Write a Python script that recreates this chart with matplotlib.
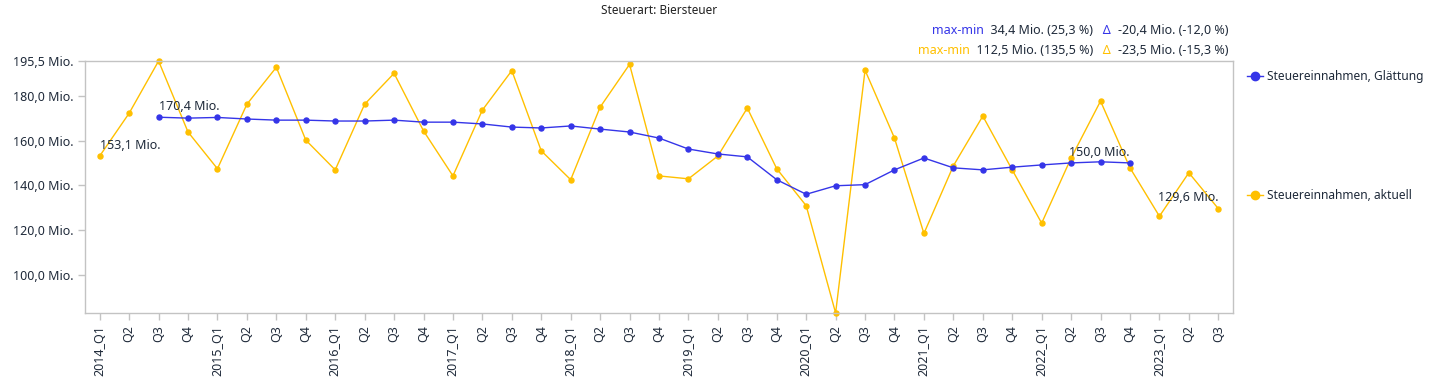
import matplotlib
matplotlib.use("Agg")
import matplotlib.pyplot as plt
from matplotlib.lines import Line2D
import numpy as np

plt.rcParams['font.family'] = ['Noto Sans', 'DejaVu Sans']

# data: quarterly beer tax revenue (Mio. EUR)
quarters = [f"{y}_Q{q}" for y in range(2014, 2024) for q in range(1, 5)][:39]
tick_labels = [q if q.endswith("Q1") else q.split("_")[1] for q in quarters]

aktuell = [153.1, 172.2, 195.5, 163.8,
           147.4, 176.2, 192.7, 160.2,
           146.9, 176.2, 190.0, 164.3,
           144.2, 173.6, 191.2, 155.4,
           142.5, 174.9, 194.0, 144.2,
           142.9, 153.1, 174.5, 147.4,
           130.9, 83.0, 191.4, 161.1,
           118.5, 148.7, 170.9, 146.9,
           123.1, 152.2, 177.6, 147.8,
           126.2, 145.6, 129.6]

glaettung = [None, None, 170.4, 170.0,
             170.3, 169.6, 169.1, 169.1,
             168.7, 168.7, 169.1, 168.2,
             168.2, 167.4, 166.0, 165.6,
             166.5, 165.1, 163.8, 161.1,
             156.2, 154.0, 152.7, 142.5,
             136.0, 139.8, 140.3, 146.9,
             152.2, 147.8, 146.9, 148.1,
             149.1, 150.0, 150.5, 150.0,
             None, None, None]

yticks = [100, 120, 140, 160, 180, 195.5]

BLUE = "#3535e8"
YELLOW = "#ffc000"
DARK = "#1f2a3a"
GREY = "#c3c3c3"

x = np.arange(len(quarters))
akt = np.array(aktuell, dtype=float)
gl = np.array([np.nan if v is None else v for v in glaettung])


def num(v):
    return f"{v:.1f}".replace(".", ",")


def mio(v):
    return num(v) + " Mio."


fig = plt.figure(figsize=(14.38, 3.83), dpi=100)
ax = fig.add_axes([85 / 1438, 1 - 313 / 383, (1233 - 85) / 1438, (313 - 61) / 383])

ax.plot(x, gl, color=BLUE, lw=1, marker="o", ms=3.6, clip_on=False, zorder=3)
ax.plot(x, akt, color=YELLOW, lw=1, marker="o", ms=3.6, clip_on=False, zorder=2)

ax.set_xlim(-0.5, len(x) - 0.5)
ax.set_ylim(min(aktuell), max(aktuell))
ax.set_yticks(yticks)
ax.set_yticklabels([mio(v) for v in yticks])
ax.set_xticks(x)
ax.set_xticklabels(tick_labels, rotation=90, va="top")
ax.tick_params(axis="both", colors=GREY, labelcolor=DARK, labelsize=9, length=5, width=1)
for s in ax.spines.values():
    s.set_color(GREY)
    s.set_linewidth(1)

# value labels
first_gl = int(np.where(~np.isnan(gl))[0][0])
last_gl = int(np.where(~np.isnan(gl))[0][-1])
ax.annotate(mio(akt[0]), (x[0], akt[0]), xytext=(0, 3), textcoords="offset points",
            ha="left", va="bottom", fontsize=9, color=DARK)
ax.annotate(mio(gl[first_gl]), (x[first_gl], gl[first_gl]), xytext=(0, 3), textcoords="offset points",
            ha="left", va="bottom", fontsize=9, color=DARK)
ax.annotate(mio(gl[last_gl]), (x[last_gl], gl[last_gl]), xytext=(0, 3), textcoords="offset points",
            ha="right", va="bottom", fontsize=9, color=DARK)
ax.annotate(mio(akt[-1]), (x[-1], akt[-1]), xytext=(0, 3), textcoords="offset points",
            ha="right", va="bottom", fontsize=9, color=DARK)

fig.text((85 + 1233) / 2 / 1438, 1 - 11 / 383, "Steuerart: Biersteuer", ha="center", va="center",
         fontsize=8.5, color="#222222")


# header stats lines
def stats(series, color, ypix):
    s = series[~np.isnan(series)]
    mx, mn = s.max(), s.min()
    d = s[-1] - s[0]
    pieces = [("max-min", color),
              (f"  {mio(mx - mn)} ({num((mx - mn) / mn * 100)} %)", DARK),
              ("   \u0394  ", color),
              (f"{mio(d)} ({num(d / s[0] * 100)} %)", DARK)]
    prev = None
    for txt, col in reversed(pieces):
        if prev is None:
            prev = fig.text(1228 / 1438, 1 - ypix / 383, txt, ha="right", va="center",
                            fontsize=9, color=col)
        else:
            prev = ax.annotate(txt, xy=(0, 0), xycoords=prev, ha="right", va="bottom",
                               fontsize=9, color=col, annotation_clip=False)


stats(gl, BLUE, 31)
stats(akt, YELLOW, 50)

# legend
h1 = Line2D([], [], color=BLUE, lw=1, marker="o", ms=6)
h2 = Line2D([], [], color=YELLOW, lw=1, marker="o", ms=6)
fig.legend([h1, h2], ["Steuereinnahmen, Glättung", "Steuereinnahmen, aktuell"],
           loc="upper left", bbox_to_anchor=(1241 / 1438, 1 - 64 / 383), frameon=False,
           fontsize=8.6, handlelength=1.3, handletextpad=0.4, labelspacing=8.9, borderpad=0,
           labelcolor=DARK)

fig.savefig("out.png", dpi=100)
